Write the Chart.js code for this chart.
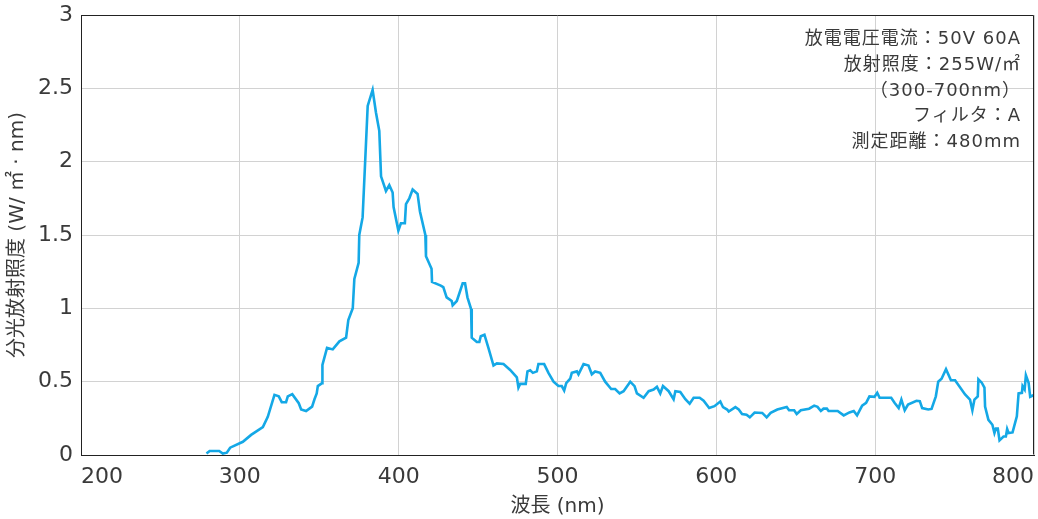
<!DOCTYPE html>
<html lang="ja">
<head>
<meta charset="utf-8">
<title>分光放射照度</title>
<script src="https://cdn.jsdelivr.net/npm/chart.js@4/dist/chart.umd.min.js"></script>
<style>
  html, body { margin: 0; padding: 0; background: #ffffff; }
  #wrap { position: relative; width: 1038px; height: 519px; }
  #chart { display: block; }
  #conditions {
    position: absolute;
    right: 17px;
    top: 25px;
    text-align: right;
    font-family: "DejaVu Sans", "Noto Sans CJK JP", sans-serif;
    font-size: 18px;
    line-height: 25.75px;
    letter-spacing: 1px;
    color: #3a3a3a;
    white-space: nowrap;
  }
</style>
</head>
<body>
<div id="wrap">
  <canvas id="chart" width="1038" height="519"></canvas>
  <div id="conditions">
    <div>放電電圧電流：50V 60A</div>
    <div>放射照度：255W/㎡</div>
    <div>（300-700nm）</div>
    <div>フィルタ：A</div>
    <div>測定距離：480mm</div>
  </div>
</div>
<script>
// Spectral irradiance (W/㎡·nm) against wavelength (nm)
const wavelengths = [
  279, 281, 287, 289.3, 291.8, 293.9, 301.9, 307.1, 314.5, 317.6,
  321.8, 324.5, 326.4, 329.1, 330.2, 333.0, 337.1, 338.6, 341.7, 345.5,
  347.0, 348.4, 349.1, 351.8, 352.0, 354.9, 358.5, 362.7, 366.9, 368.3,
  371.1, 372.1, 374.8, 375.2, 377.3, 380.5, 383.6, 385.7, 387.8, 388.9,
  392.0, 394.1, 396.2, 396.8, 399.8, 401.4, 403.9, 404.6, 406.7, 408.8,
  411.9, 413.4, 416.8, 417.2, 420.7, 421.0, 426.5, 428.1, 430.2, 433.4,
  434.0, 436.6, 440.3, 441.8, 443.3, 445.6, 446.0, 449.2, 450.8, 451.7,
  454.0, 456.5, 459.7, 461.8, 466.0, 470.2, 474.4, 475.4, 476.5, 480.0,
  481.1, 482.8, 484.5, 487.0, 488.0, 491.6, 494.3, 497.5, 500.6, 502.7,
  504.2, 505.5, 508.0, 509.0, 512.2, 513.2, 516.4, 519.5, 521.6, 523.7,
  526.9, 530.0, 533.8, 536.3, 539.1, 541.6, 545.8, 548.5, 550.0, 554.2,
  557.4, 560.5, 562.6, 564.7, 566.4, 570.0, 573.1, 574.2, 577.3, 580.5,
  583.2, 585.7, 589.5, 592.0, 595.5, 598.8, 602.5, 604.2, 606.8, 607.8,
  612.0, 614.1, 616.2, 619.0, 621.1, 624.1, 628.9, 631.7, 634.2, 638.4,
  644.3, 645.8, 649.0, 650.6, 653.2, 658.4, 661.6, 663.7, 665.8, 667.5,
  669.6, 670.7, 676.4, 680.2, 683.8, 686.5, 688.6, 691.8, 694.3, 696.4,
  699.6, 701.3, 702.8, 710.1, 712.3, 714.8, 716.5, 718.6, 720.7, 726.0,
  728.1, 729.6, 733.4, 735.5, 738.2, 739.7, 741.8, 744.6, 747.7, 750.3,
  756.6, 759.7, 761.2, 762.5, 764.6, 765.0, 767.1, 768.8, 769.2, 771.3,
  773.8, 775.1, 776.0, 777.2, 778.3, 780.8, 782.3, 783.1, 784.0, 786.5,
  789.2, 790.3, 792.4, 792.8, 794.1, 794.9, 796.6, 797.6, 800.8, 802.5
];

const irradiance = [
  0.01, 0.027, 0.027, 0.01, 0.016, 0.05, 0.09, 0.137, 0.19, 0.26,
  0.41, 0.40, 0.36, 0.36, 0.40, 0.415, 0.353, 0.31, 0.30, 0.33,
  0.38, 0.42, 0.47, 0.49, 0.615, 0.73, 0.72, 0.775, 0.80, 0.92,
  1.00, 1.20, 1.31, 1.50, 1.62, 2.38, 2.49, 2.335, 2.21, 1.90,
  1.80, 1.84, 1.79, 1.69, 1.53, 1.58, 1.58, 1.71, 1.75, 1.81,
  1.78, 1.66, 1.50, 1.355, 1.27, 1.18, 1.155, 1.144, 1.075, 1.05,
  1.02, 1.05, 1.17, 1.17, 1.075, 0.995, 0.80, 0.77, 0.77, 0.81,
  0.82, 0.73, 0.61, 0.625, 0.62, 0.58, 0.53, 0.46, 0.485, 0.485,
  0.57, 0.577, 0.56, 0.57, 0.62, 0.62, 0.56, 0.50, 0.47, 0.47,
  0.44, 0.49, 0.52, 0.56, 0.57, 0.55, 0.62, 0.61, 0.55, 0.57,
  0.56, 0.50, 0.45, 0.45, 0.42, 0.435, 0.50, 0.47, 0.42, 0.39,
  0.435, 0.446, 0.465, 0.42, 0.47, 0.435, 0.38, 0.435, 0.43, 0.38,
  0.35, 0.39, 0.39, 0.37, 0.32, 0.333, 0.365, 0.326, 0.31, 0.296,
  0.326, 0.31, 0.28, 0.275, 0.257, 0.29, 0.287, 0.257, 0.287, 0.31,
  0.328, 0.305, 0.305, 0.28, 0.305, 0.316, 0.337, 0.328, 0.30, 0.316,
  0.316, 0.30, 0.30, 0.27, 0.29, 0.30, 0.27, 0.337, 0.355, 0.40,
  0.397, 0.424, 0.39, 0.39, 0.355, 0.32, 0.378, 0.305, 0.344, 0.37,
  0.367, 0.32, 0.31, 0.314, 0.40, 0.50, 0.52, 0.585, 0.51, 0.51,
  0.413, 0.378, 0.305, 0.378, 0.40, 0.516, 0.493, 0.46, 0.33, 0.24,
  0.206, 0.15, 0.18, 0.18, 0.10, 0.126, 0.126, 0.177, 0.15, 0.154,
  0.264, 0.42, 0.424, 0.47, 0.447, 0.544, 0.493, 0.397, 0.413, 0.42
];

// Axis ranges and tick steps
const xRange = [200, 800];
const xStep = 100;
const yRange = [0, 3];
const yStep = 0.5;

const xTitle = '波長 (nm)';
const yTitle = '分光放射照度 (W/ ㎡ · nm)';

const points = wavelengths.map((w, i) => ({ x: w, y: irradiance[i] }));

const textColor = '#3a3a3a';
const gridColor = '#d2d2d2';
const frameColor = '#222222';
const family = '"DejaVu Sans", "Noto Sans CJK JP", sans-serif';
// The tall line box on the x labels sets their distance below the axis
const xTickFont = { family, size: 22, lineHeight: 1.7 };
const yTickFont = { family, size: 22, lineHeight: 0.6 };
const titleFont = { family, size: 20 };

// Closes the plot frame on the top and right sides
const frame = {
  id: 'frame',
  afterDraw(chart) {
    const { ctx, chartArea: a } = chart;
    ctx.save();
    ctx.strokeStyle = frameColor;
    ctx.lineWidth = 1;
    ctx.beginPath();
    ctx.moveTo(Math.round(a.left) + 0.5, Math.round(a.top) + 0.5);
    ctx.lineTo(Math.round(a.right) - 0.5, Math.round(a.top) + 0.5);
    ctx.lineTo(Math.round(a.right) - 0.5, Math.round(a.bottom) - 0.5);
    ctx.stroke();
    ctx.restore();
  }
};

new Chart(document.getElementById('chart'), {
  type: 'line',
  data: {
    datasets: [{
      data: points,
      borderColor: '#14a8e6',
      borderWidth: 2.6,
      pointRadius: 0,
      tension: 0,
      fill: false
    }]
  },
  options: {
    responsive: false,
    animation: false,
    layout: { padding: { top: 15, right: 4, left: 0, bottom: 0 } },
    plugins: { legend: { display: false }, tooltip: { enabled: false } },
    scales: {
      x: {
        type: 'linear',
        min: xRange[0],
        max: xRange[1],
        afterFit(scale) { scale.height = 64; },
        ticks: {
          stepSize: xStep,
          align: 'inner',
          padding: 4,
          color: textColor,
          font: xTickFont,
          maxRotation: 0
        },
        grid: { color: gridColor, lineWidth: 1, drawTicks: false },
        border: { display: true, color: frameColor, width: 1 },
        title: {
          display: true,
          text: xTitle,
          color: textColor,
          font: titleFont,
          padding: { top: 0, bottom: 0 }
        }
      },
      y: {
        type: 'linear',
        min: yRange[0],
        max: yRange[1],
        afterFit(scale) { scale.width = 81; },
        ticks: {
          stepSize: yStep,
          padding: 8,
          color: textColor,
          font: yTickFont,
          callback: (value) => String(Math.round(value * 10) / 10)
        },
        grid: { color: gridColor, lineWidth: 1, drawTicks: false },
        border: { display: true, color: frameColor, width: 1 },
        title: {
          display: true,
          text: yTitle,
          color: textColor,
          font: titleFont,
          padding: { top: 6, bottom: 0 }
        }
      }
    }
  },
  plugins: [frame]
});
</script>
</body>
</html>
